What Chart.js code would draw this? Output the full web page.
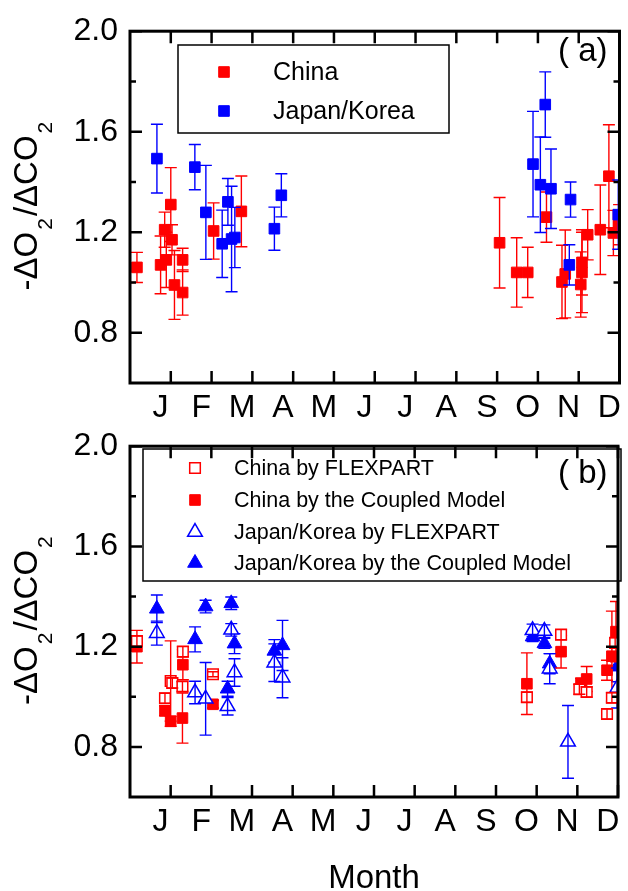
<!DOCTYPE html>
<html>
<head>
<meta charset="utf-8">
<script src="https://cdn.jsdelivr.net/npm/chart.js@4.4.0/dist/chart.umd.min.js"></script>
<style>
  html, body { margin: 0; padding: 0; background: #fff; overflow: hidden; }
  body { width: 628px; height: 891px; position: relative; }
  .panel { position: absolute; left: 0; width: 628px; }
  #wrapA { top: 0; height: 430px; }
  #wrapB { top: 415px; height: 480px; }
</style>
</head>
<body>
<div class="panel" id="wrapA"><canvas id="chartA" width="628" height="430"></canvas></div>
<div class="panel" id="wrapB"><canvas id="chartB" width="628" height="480"></canvas></div>
<script>
// month letters and tick values
const months = ["J", "F", "M", "A", "M", "J", "J", "A", "S", "O", "N", "D"];
const yTicks = [0.8, 1.2, 1.6, 2.0];
const yMinor = [1.0, 1.4, 1.8];

// panel (a): China
const chinaX = [0.17, 0.75, 0.85, 0.89, 1.00, 1.03, 1.09, 1.29, 1.29, 2.05, 2.73,
                9.06, 9.48, 9.75, 10.21, 10.59, 10.67, 11.05, 11.08, 11.08, 11.22, 11.53, 11.74, 11.85, 11.99];
const chinaY = [1.06, 1.07, 1.21, 1.09, 1.31, 1.17, 0.99, 1.09, 0.96, 1.205, 1.283,
                1.158, 1.04, 1.04, 1.26, 1.002, 1.034, 0.992, 1.04, 1.08, 1.19, 1.21, 1.423, 1.197, 1.23];
const chinaErr = [0.06, 0.115, 0.07, 0.11, 0.147, 0.06, 0.137, 0.046, 0.09, 0.112, 0.141,
                  0.18, 0.138, 0.1, 0.1, 0.146, 0.175, 0.13, 0.16, 0.13, 0.1, 0.178, 0.205, 0.09, 0.08];

// panel (a): Japan/Korea
const jkX = [0.66, 1.59, 1.86, 2.26, 2.40, 2.49, 2.57, 3.54, 3.71, 9.88, 10.06, 10.18, 10.32, 10.77, 10.80, 11.97];
const jkY = [1.493, 1.459, 1.279, 1.154, 1.321, 1.173, 1.179, 1.214, 1.347, 1.471, 1.389, 1.708, 1.373, 1.07, 1.33, 1.27];
const jkErr = [0.137, 0.09, 0.187, 0.134, 0.093, 0.21, 0.12, 0.086, 0.086, 0.21, 0.19, 0.13, 0.158, 0.08, 0.07, 0.138];

// panel (b): China by FLEXPART
const cfX = [0.17, 0.86, 1.00, 1.04, 1.29, 1.30, 2.04, 9.76, 10.60, 11.05, 11.23, 11.73, 11.85, 11.93];
const cfY = [1.222, 0.994, 1.063, 1.055, 1.041, 1.18, 1.09, 0.998, 1.248, 1.03, 1.019, 0.931, 0.996, 1.215];
const cfErr = [0.02, 0.02, 0.16, 0.02, 0.02, 0.02, 0.01, 0.02, 0.02, 0.02, 0.02, 0.02, 0.02, 0.02];

// panel (b): China by the Coupled Model
const ccX = [0.17, 0.86, 1.00, 1.29, 1.30, 2.04, 9.76, 10.60, 11.09, 11.23, 11.73, 11.85, 11.95];
const ccY = [1.20, 0.944, 0.902, 0.915, 1.128, 0.97, 1.052, 1.18, 1.054, 1.071, 1.106, 1.162, 1.26];
const ccErr = [0.065, 0.02, 0.02, 0.1, 0.06, 0.015, 0.123, 0.065, 0.02, 0.05, 0.04, 0.18, 0.12];

// panel (b): Japan/Korea by FLEXPART
const jfX = [0.66, 1.60, 1.86, 2.40, 2.49, 2.57, 3.55, 3.75, 9.90, 10.19, 10.32, 10.77, 11.98];
const jfY = [1.254, 1.017, 0.992, 0.962, 1.267, 1.097, 1.136, 1.076, 1.265, 1.262, 1.112, 0.82, 1.035];
const jfErr = [0.048, 0.045, 0.145, 0.035, 0.025, 0.055, 0.075, 0.08, 0.025, 0.025, 0.06, 0.145, 0.08];

// panel (b): Japan/Korea by the Coupled Model
const jcX = [0.66, 1.60, 1.86, 2.40, 2.49, 2.57, 3.55, 3.75, 9.90, 10.19, 10.32, 11.98];
const jcY = [1.351, 1.229, 1.36, 1.032, 1.373, 1.212, 1.183, 1.205, 1.24, 1.213, 1.132, 1.12];
const jcErr = [0.055, 0.05, 0.025, 0.03, 0.025, 0.04, 0.045, 0.1, 0.02, 0.02, 0.04, 0.06];

const FONT = "'Liberation Sans', Arial, Helvetica, sans-serif";
const RED = "#ff0000";
const BLUE = "#0000ff";

const toPts = (xs, ys) => xs.map((x, i) => ({ x: x, y: ys[i] }));

// narrow font for legend (b), if present
function pickNarrow() {
  const c = document.createElement("canvas").getContext("2d");
  c.font = "24px 'Liberation Sans'";
  const w1 = c.measureText("Japan/Korea by the Coupled Model").width;
  c.font = "24px 'Liberation Sans Narrow', 'Liberation Sans'";
  const w2 = c.measureText("Japan/Korea by the Coupled Model").width;
  return w2 < w1 - 5 ? { family: "'Liberation Sans Narrow', 'Liberation Sans'", size: 25 }
                     : { family: FONT, size: 21.5 };
}
const narrow = pickNarrow();

function marker(ctx, ds, x, y) {
  ctx.save();
  ctx.fillStyle = ds.backgroundColor;
  ctx.strokeStyle = ds.borderColor;
  ctx.lineWidth = ds.borderWidth;
  Chart.helpers.drawPoint(ctx, { pointStyle: ds.pointStyle, radius: ds.pointRadius, borderWidth: ds.borderWidth, rotation: 0 }, x, y);
  ctx.restore();
}

const panelDecor = {
  id: "panelDecor",
  afterDatasetDraw(chart, args) {
    const ds = chart.data.datasets[args.index];
    if (!ds.errors) return;
    const { ctx, chartArea: a, scales: { x, y } } = chart;
    ctx.save();
    ctx.beginPath();
    ctx.rect(a.left, a.top, a.right - a.left, a.bottom - a.top);
    ctx.clip();
    ctx.strokeStyle = ds.errorColor;
    ctx.lineWidth = 1.4;
    ds.data.forEach((p, i) => {
      const px = x.getPixelForValue(p.x);
      const y1 = y.getPixelForValue(p.y + ds.errors[i]);
      const y2 = y.getPixelForValue(p.y - ds.errors[i]);
      ctx.beginPath();
      ctx.moveTo(px, y1); ctx.lineTo(px, y2);
      ctx.moveTo(px - 6, y1); ctx.lineTo(px + 6, y1);
      ctx.moveTo(px - 6, y2); ctx.lineTo(px + 6, y2);
      ctx.stroke();
    });
    ctx.restore();
  },
  afterDraw(chart, args, opts) {
    const { ctx, chartArea: a, scales: { x, y } } = chart;
    ctx.save();
    // inward ticks
    ctx.strokeStyle = "#000";
    ctx.lineWidth = 2.5;
    ctx.beginPath();
    for (let m = 1; m <= 12; m++) {
      const px = x.getPixelForValue(m);
      ctx.moveTo(px, a.bottom); ctx.lineTo(px, a.bottom - 12);
      ctx.moveTo(px, a.top); ctx.lineTo(px, a.top + 12);
    }
    yTicks.forEach(v => {
      const py = y.getPixelForValue(v);
      ctx.moveTo(a.left, py); ctx.lineTo(a.left + 12, py);
      ctx.moveTo(a.right, py); ctx.lineTo(a.right - 12, py);
    });
    yMinor.forEach(v => {
      const py = y.getPixelForValue(v);
      ctx.moveTo(a.left, py); ctx.lineTo(a.left + 6, py);
      ctx.moveTo(a.right, py); ctx.lineTo(a.right - 6, py);
    });
    ctx.stroke();
    // frame
    ctx.lineWidth = 3;
    ctx.strokeRect(a.left, a.top, a.right - a.left, a.bottom - a.top);

    // y title with subscripts
    const parts = [["-\u0394O", 33, 0], ["2", 21, 15], ["/\u0394CO", 33, 0], ["2", 21, 15]];
    let total = 0;
    parts.forEach(p => { ctx.font = p[1] + "px " + FONT; total += ctx.measureText(p[0]).width + 2; });
    ctx.translate(37, (a.top + a.bottom) / 2 - 2);
    ctx.rotate(-Math.PI / 2);
    ctx.fillStyle = "#000";
    ctx.textBaseline = "alphabetic";
    ctx.textAlign = "left";
    let u = -total / 2;
    parts.forEach(p => {
      ctx.font = p[1] + "px " + FONT;
      ctx.fillText(p[0], u, p[2]);
      u += ctx.measureText(p[0]).width + 2;
    });
    ctx.setTransform(1, 0, 0, 1, 0, 0);

    // panel label
    ctx.font = "33px " + FONT;
    ctx.textBaseline = "middle";
    ctx.fillText(opts.label, 558, opts.labelY);

    // legend
    const lg = opts.legend;
    ctx.lineWidth = 1.5;
    ctx.strokeRect(lg.box[0], lg.box[1], lg.box[2], lg.box[3]);
    ctx.font = lg.size + "px " + lg.family;
    ctx.textBaseline = "middle";
    lg.items.forEach(it => {
      const ds = chart.data.datasets[it.ds];
      marker(ctx, ds, lg.mx, it.y);
      ctx.fillStyle = "#000";
      ctx.fillText(ds.label, lg.tx, it.y + 1);
    });
    ctx.restore();
  }
};

function scales(xHeight, withTitle) {
  return {
    x: {
      type: "linear", min: 0, max: 12,
      afterBuildTicks: s => { s.ticks = months.map((m, i) => ({ value: i + 0.75 })); },
      ticks: {
        callback: (v, i) => months[i],
        font: { size: 32, family: FONT }, color: "#000", padding: 6,
        maxRotation: 0, autoSkip: false
      },
      grid: { display: false, drawTicks: false },
      border: { display: false },
      title: withTitle ? { display: true, text: "Month", color: "#000",
        font: { size: 33, family: FONT, lineHeight: 1 }, padding: { top: 0, bottom: 0 } } : { display: false },
      afterFit: s => { s.height = xHeight; }
    },
    y: {
      min: 0.6, max: 2.0,
      afterBuildTicks: s => { s.ticks = yTicks.map(v => ({ value: v })); },
      ticks: { callback: v => v.toFixed(1), font: { size: 32, family: FONT }, color: "#000", padding: 12 },
      grid: { display: false, drawTicks: false },
      border: { display: false },
      afterFit: s => { s.width = 130; }
    }
  };
}

function ds(label, xs, ys, errs, style, fill, stroke, order) {
  return {
    label: label, data: toPts(xs, ys), errors: errs, errorColor: stroke,
    pointStyle: style, pointRadius: style === "triangle" ? 8.5 : 7.5,
    backgroundColor: fill, borderColor: stroke, borderWidth: fill === "#ffffff" ? 1.5 : 1,
    pointHoverRadius: 7, showLine: false, order: order
  };
}

new Chart(document.getElementById("chartA"), {
  type: "scatter",
  data: {
    datasets: [
      ds("China", chinaX, chinaY, chinaErr, "rect", RED, RED, 2),
      ds("Japan/Korea", jkX, jkY, jkErr, "rect", BLUE, BLUE, 1)
    ]
  },
  options: {
    responsive: false, animation: false,
    layout: { padding: { top: 21, right: 1, left: 0, bottom: 0 } },
    scales: scales(47, false),
    plugins: {
      legend: { display: false }, tooltip: { enabled: false },
      panelDecor: {
        label: "( a)", labelY: 52,
        legend: { box: [178, 45, 271, 88], mx: 224, tx: 273, size: 25, family: FONT,
                  items: [{ ds: 0, y: 72 }, { ds: 1, y: 111 }] }
      }
    }
  },
  plugins: [panelDecor]
});

new Chart(document.getElementById("chartB"), {
  type: "scatter",
  data: {
    datasets: [
      ds("China by FLEXPART", cfX, cfY, cfErr, "rect", "#ffffff", RED, 1),
      ds("China by the Coupled Model", ccX, ccY, ccErr, "rect", RED, RED, 2),
      ds("Japan/Korea by FLEXPART", jfX, jfY, jfErr, "triangle", "#ffffff", BLUE, 1),
      ds("Japan/Korea by the Coupled Model", jcX, jcY, jcErr, "triangle", BLUE, BLUE, 2)
    ]
  },
  options: {
    responsive: false, animation: false,
    layout: { padding: { top: 20, right: 1, left: 0, bottom: 0 } },
    scales: scales(98, true),
    plugins: {
      legend: { display: false }, tooltip: { enabled: false },
      panelDecor: {
        label: "( b)", labelY: 59,
        legend: { box: [143, 34, 478, 132], mx: 195, tx: 234, size: narrow.size, family: narrow.family,
                  items: [{ ds: 0, y: 53 }, { ds: 1, y: 85 }, { ds: 2, y: 117 }, { ds: 3, y: 148 }] }
      }
    }
  },
  plugins: [panelDecor]
});
</script>
</body>
</html>
